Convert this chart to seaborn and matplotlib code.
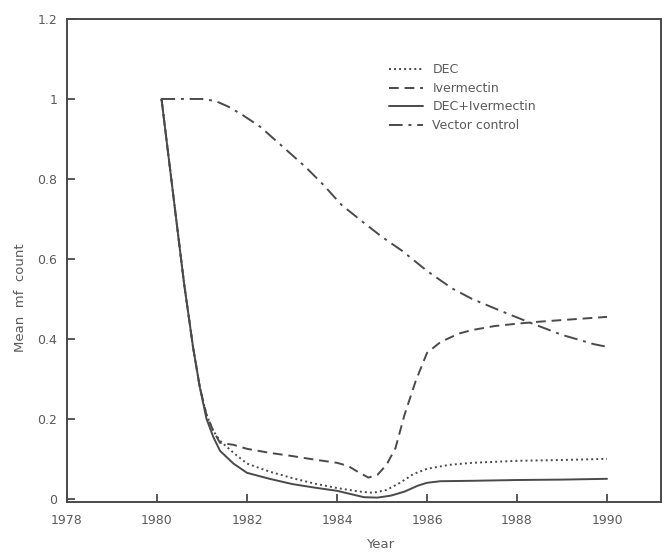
import matplotlib
matplotlib.use("Agg")
import matplotlib.pyplot as plt
import seaborn as sns
import pandas as pd

# ---- data ----
dec_year = [1980.1, 1980.35, 1980.6, 1980.8, 1980.95, 1981.1, 1981.25, 1981.4, 1981.7,
            1982.0, 1982.5, 1983.0, 1983.5, 1984.0, 1984.5, 1984.8, 1985.1, 1985.4,
            1985.7, 1986.0, 1986.5, 1987.0, 1988.0, 1989.0, 1990.0]
dec_val = [1.0, 0.77, 0.54, 0.38, 0.28, 0.21, 0.17, 0.145, 0.115,
           0.088, 0.068, 0.052, 0.038, 0.027, 0.018, 0.015, 0.022, 0.04,
           0.062, 0.075, 0.085, 0.09, 0.095, 0.097, 0.1]

iver_year = [1980.1, 1980.35, 1980.6, 1980.8, 1980.95, 1981.1, 1981.25, 1981.4, 1981.7,
             1982.0, 1982.5, 1983.0, 1983.5, 1984.0, 1984.25, 1984.5, 1984.7, 1984.9,
             1985.1, 1985.3, 1985.5, 1985.75, 1986.0, 1986.3, 1986.7, 1987.0, 1987.5,
             1988.0, 1988.5, 1989.0, 1989.5, 1990.0]
iver_val = [1.0, 0.77, 0.54, 0.38, 0.28, 0.21, 0.17, 0.14, 0.135,
            0.125, 0.115, 0.107, 0.098, 0.09, 0.082, 0.065, 0.053, 0.06,
            0.085, 0.127, 0.21, 0.295, 0.365, 0.392, 0.413, 0.422, 0.432,
            0.438, 0.443, 0.447, 0.451, 0.455]

combo_year = [1980.1, 1980.35, 1980.6, 1980.8, 1980.95, 1981.1, 1981.25, 1981.4, 1981.7,
              1982.0, 1982.5, 1983.0, 1983.5, 1984.0, 1984.3, 1984.6, 1984.9, 1985.2,
              1985.5, 1985.8, 1986.0, 1986.3, 1987.0, 1988.0, 1989.0, 1990.0]
combo_val = [1.0, 0.77, 0.54, 0.38, 0.28, 0.2, 0.155, 0.12, 0.088,
             0.065, 0.05, 0.037, 0.028, 0.02, 0.012, 0.004, 0.003, 0.008,
             0.018, 0.033, 0.04, 0.044, 0.045, 0.047, 0.048, 0.05]

vector_year = [1980.1, 1980.5, 1981.0, 1981.3, 1981.6, 1981.9, 1982.3, 1982.8, 1983.3,
               1983.7, 1984.1, 1984.6, 1985.0, 1985.45, 1986.0, 1986.56, 1987.0, 1987.66,
               1988.3, 1989.0, 1989.7, 1990.0]
vector_val = [1.0, 1.0, 1.0, 0.995, 0.98, 0.96, 0.93, 0.88, 0.83,
              0.785, 0.735, 0.69, 0.655, 0.62, 0.57, 0.526, 0.5, 0.469,
              0.44, 0.41, 0.387, 0.38]

series_names = ["DEC", "Ivermectin", "DEC+Ivermectin", "Vector control"]
x_ticks = [1978, 1980, 1982, 1984, 1986, 1988, 1990]
y_ticks = [0, 0.2, 0.4, 0.6, 0.8, 1.0, 1.2]
y_tick_labels = ["0", "0.2", "0.4", "0.6", "0.8", "1", "1.2"]

sns.set_theme(style="white")
plt.rcParams["font.family"] = ["DejaVu Sans"]

ink = "#4a4a4a"
text_c = "#5a5a5a"

fig = plt.figure(figsize=(6.62, 5.54), dpi=100)
ax = fig.add_axes([67 / 662, 1 - 502 / 554, 594 / 662, 483 / 554])

styles = [(0, (1, 1.6)), (0, (5, 3)), "-", (0, (7, 3, 1.5, 3))]
data = [(dec_year, dec_val), (iver_year, iver_val), (combo_year, combo_val), (vector_year, vector_val)]
for (xs, ys), name, ls in zip(data, series_names, styles):
    df = pd.DataFrame({"Year": xs, "value": ys})
    sns.lineplot(data=df, x="Year", y="value", ax=ax, color=ink, linewidth=1.4,
                 linestyle=ls, label=name, legend=False, sort=False)

ax.set_xlim(1978.05, 1991.2)
ax.set_ylim(-0.008, 1.2)
ax.set_xticks(x_ticks)
ax.set_xticklabels([str(t) for t in x_ticks])
ax.set_yticks(y_ticks)
ax.set_yticklabels(y_tick_labels)

for s in ax.spines.values():
    s.set_color(ink)
    s.set_linewidth(1.4)
    s.set_visible(True)

ax.tick_params(axis="both", direction="in", length=6, width=1.3, color=ink,
               labelsize=9, labelcolor=text_c)
ax.tick_params(axis="x", pad=9)
ax.tick_params(axis="y", pad=7)
ax.tick_params(bottom=True, left=True, top=False, right=False)

ax.set_xlabel("Year", fontsize=9.5, color=text_c)
ax.set_ylabel("Mean  mf  count", fontsize=9.5, color=text_c)
ax.xaxis.set_label_coords(0.527, -0.075)
ax.yaxis.set_label_coords(-0.068, 0.424)

handles, labels = ax.get_legend_handles_labels()
leg = ax.legend(handles, labels, loc="upper left",
                bbox_to_anchor=(383 / 662, 1 - 57 / 554), bbox_transform=fig.transFigure,
                frameon=False, fontsize=9, handlelength=2.7, handletextpad=0.75,
                labelspacing=0.45, borderpad=0)
for t in leg.get_texts():
    t.set_color(text_c)

fig.savefig("out.png", dpi=100)
